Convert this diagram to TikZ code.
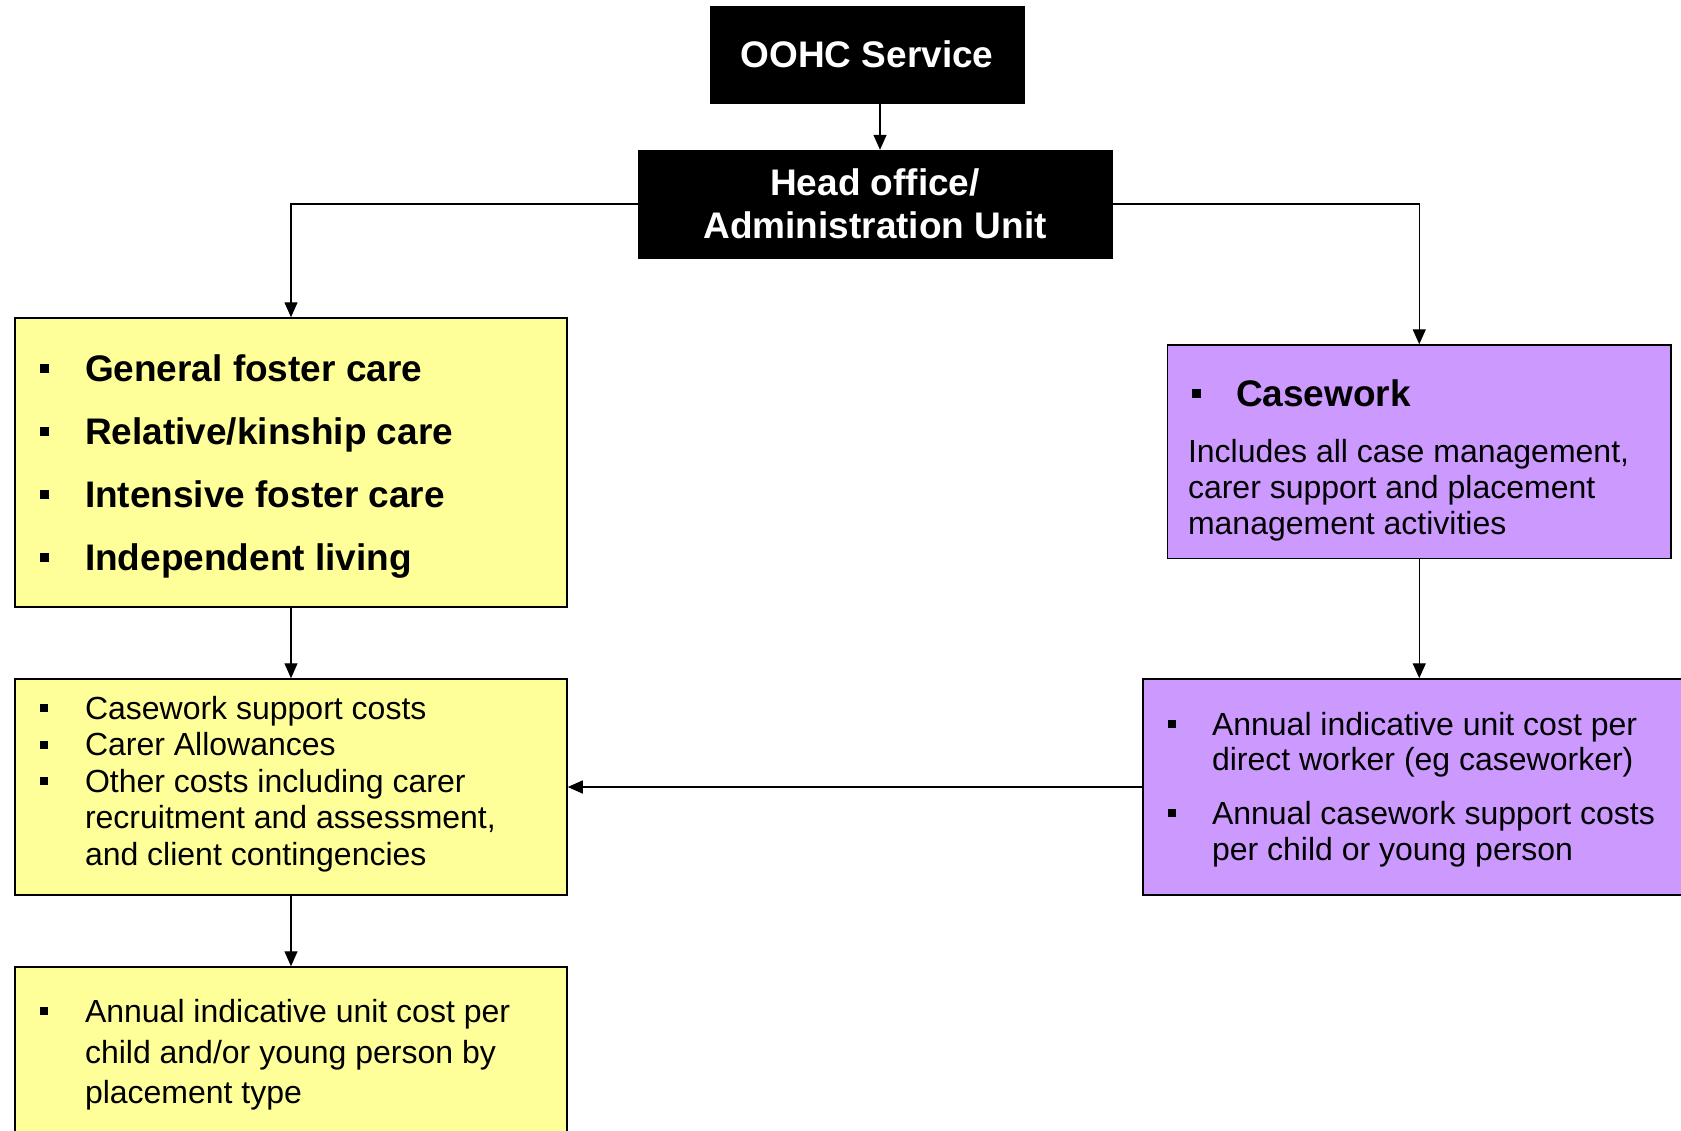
\documentclass[tikz,border=0pt]{standalone}
\usepackage{fontspec}
\setmainfont{Liberation Sans}
\usetikzlibrary{arrows.meta}
\definecolor{yel}{HTML}{FFFF99}
\definecolor{purp}{HTML}{CC99FF}
\newcommand{\bigbul}{\makebox[45pt][l]{\rule[8pt]{9pt}{9pt}}}
\newcommand{\smlbulL}{\makebox[45pt][l]{\rule[7pt]{8pt}{8pt}}}
\newcommand{\smlbulR}{\makebox[44pt][l]{\rule[7pt]{8pt}{8pt}}}
\tikzset{
  blackbox/.style={draw=black, fill=black, text=white, inner sep=0pt, align=center,
    font=\fontsize{37}{43}\selectfont\bfseries},
  ybox/.style={draw=black, fill=yel, line width=1.5pt, inner sep=0pt},
  pbox/.style={draw=black, fill=purp, line width=1.5pt, inner sep=0pt},
  txt/.style={anchor=base west, inner sep=0pt, outer sep=0pt},
  bigtxt/.style={txt, font=\fontsize{37}{43}\selectfont\bfseries},
  smltxt/.style={txt, font=\fontsize{32}{37}\selectfont},
  arr/.style={-{Triangle[length=15pt,width=13pt]}, line width=1.4pt},
}
\begin{document}
\begin{tikzpicture}[x=1pt,y=-1pt]
\useasboundingbox (0,0) rectangle (1681,1130);
% boxes
\node[blackbox, minimum width=314pt, minimum height=97pt] (oohc) at (867,54.5) {OOHC Service};
\node[blackbox, minimum width=474pt, minimum height=108pt] (head) at (875,204) {Head office/\\Administration Unit};
\node[ybox, minimum width=552pt, minimum height=289pt] (gen) at (291,462.5) {};
\node[pbox, minimum width=503.5pt, minimum height=213.5pt] (case) at (1419.25,451.75) {};
\node[ybox, minimum width=552pt, minimum height=216pt] (costs) at (291,787) {};
\node[pbox, minimum width=549pt, minimum height=216pt] (unit) at (1417.5,787) {};
\node[ybox, minimum width=552pt, minimum height=173pt] (annual) at (291,1053.5) {};
% left box 1
\node[bigtxt] (g1) at (40,381) {\bigbul General foster care};
\node[bigtxt] (g2) at (40,444) {\bigbul Relative/kinship care};
\node[bigtxt] (g3) at (40,507) {\bigbul Intensive foster care};
\node[bigtxt] (g4) at (40,570) {\bigbul Independent living};
% casework
\node[bigtxt] (c1) at (1192,406) {\makebox[44pt][l]{\rule[8pt]{9pt}{9pt}}Casework};
\node[smltxt] (c2) at (1188,462) {Includes all case management,};
\node[smltxt] (c3) at (1188,498) {carer support and placement};
\node[smltxt] (c4) at (1188,534) {management activities};
% left box 2
\node[smltxt] (s1) at (40,719) {\smlbulL Casework support costs};
\node[smltxt] (s2) at (40,755.5) {\smlbulL Carer Allowances};
\node[smltxt] (s3) at (40,792) {\smlbulL Other costs including carer};
\node[smltxt] (s4) at (85,828.5) {recruitment and assessment,};
\node[smltxt] (s5) at (85,865) {and client contingencies};
% right box 2
\node[smltxt] (u1) at (1168,735) {\smlbulR Annual indicative unit cost per};
\node[smltxt] (u2) at (1212,770) {direct worker (eg caseworker)};
\node[smltxt] (u3) at (1168,824) {\smlbulR Annual casework support costs};
\node[smltxt] (u4) at (1212,860) {per child or young person};
% left box 3
\node[smltxt] (a1) at (40,1022) {\smlbulL Annual indicative unit cost per};
\node[smltxt] (a2) at (85,1063) {child and/or young person by};
\node[smltxt] (a3) at (85,1103) {placement type};
% connectors
\draw[arr] ([xshift=13pt]oohc.south) -- ([xshift=13pt]oohc.south |- head.north);
\draw[arr] (head.west) -| (gen.north);
\draw[arr] (head.east) -| (case.north);
\draw[arr] (gen.south) -- (costs.north);
\draw[arr] (case.south) -- (case.south |- unit.north);
\draw[arr] (unit.west) -- (costs.east);
\draw[arr] (costs.south) -- (annual.north);
\end{tikzpicture}
\end{document}
